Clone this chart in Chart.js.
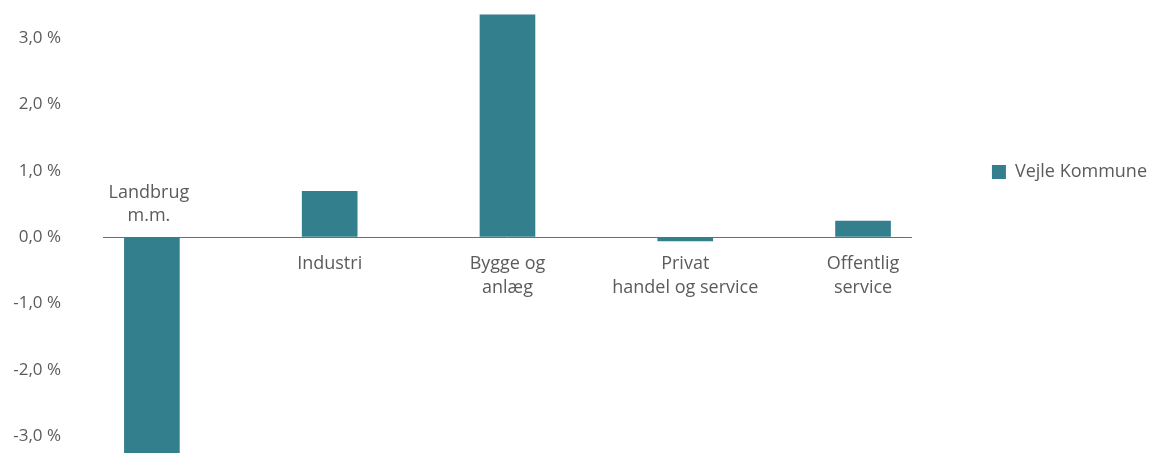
<!DOCTYPE html>
<html>
<head>
<meta charset="utf-8">
<script src="https://cdn.jsdelivr.net/npm/chart.js@4/dist/chart.umd.min.js"></script>
<style>
html,body{margin:0;padding:0;background:#fff;}
#wrap{width:1157px;height:453px;position:relative;}
</style>
</head>
<body>
<div id="wrap"><canvas id="c" width="1157" height="453"></canvas></div>
<script>
const categories = [["Landbrug","m.m."],["Industri"],["Bygge og","anlæg"],["Privat","handel og service"],["Offentlig","service"]];
const seriesName = "Vejle Kommune";
const values = [-3.4, 0.69, 3.35, -0.06, 0.24];
const yTicks = [-3, -2, -1, 0, 1, 2, 3];
const yMin = -3.256, yMax = 3.573;

const barColor = '#347f8e';
const textColor = '#5b5b5b';
const fontFamily = "'Open Sans', 'Noto Sans', sans-serif";

const catLabels = {
  id: 'catLabels',
  afterDatasetsDraw(chart) {
    const ctx = chart.ctx;
    const xs = chart.scales.x, ys = chart.scales.y;
    const y0 = ys.getPixelForValue(0);
    ctx.save();
    ctx.font = "18px " + fontFamily;
    ctx.fillStyle = textColor;
    ctx.textAlign = 'center';
    ctx.textBaseline = 'middle';
    const lh = 23.5;
    categories.forEach((lines, i) => {
      const x = xs.getPixelForValue(i);
      if (values[i] < -0.5) {
        lines.forEach((t, j) => {
          ctx.fillText(t, x - 3, y0 - 21 - (lines.length - 1 - j) * lh);
        });
      } else {
        lines.forEach((t, j) => {
          ctx.fillText(t, x, y0 + 27 + j * lh);
        });
      }
    });
    ctx.restore();
  }
};

new Chart(document.getElementById('c'), {
  type: 'bar',
  data: {
    datasets: [{
      label: seriesName,
      data: values.map((v, i) => ({x: i, y: v})),
      backgroundColor: barColor,
      borderWidth: 0,
      barThickness: 55
    }]
  },
  options: {
    responsive: false,
    animation: false,
    layout: {padding: {left: 0, right: 0, top: 0, bottom: 0}},
    plugins: {
      tooltip: {enabled: false},
      legend: {
        position: 'right',
        align: 'start',
        title: {display: true, text: '', font: {size: 10, lineHeight: 1}, padding: {top: 73, bottom: 0}},
        labels: {
          boxWidth: 14,
          boxHeight: 14,
          padding: 80,
          color: textColor,
          font: {family: fontFamily, size: 18}
        }
      }
    },
    scales: {
      x: {
        type: 'linear',
        min: -0.275,
        max: 4.275,
        display: false,
        offset: false
      },
      y: {
        min: yMin,
        max: yMax,
        border: {display: false},
        grid: {
          drawTicks: false,
          color: (c) => (c.tick && c.tick.value === 0) ? '#6e6e6e' : 'rgba(0,0,0,0)',
          lineWidth: 1
        },
        afterBuildTicks: (s) => { s.ticks = yTicks.map(v => ({value: v})); },
        afterFit: (s) => { s.width = 103; s.paddingTop = 0; s.paddingBottom = 0; },
        ticks: {
          padding: 42,
          color: textColor,
          font: {family: fontFamily, size: 17},
          callback: (v) => v.toFixed(1).replace('.', ',') + ' %'
        }
      }
    }
  },
  plugins: [catLabels]
});
</script>
</body>
</html>
